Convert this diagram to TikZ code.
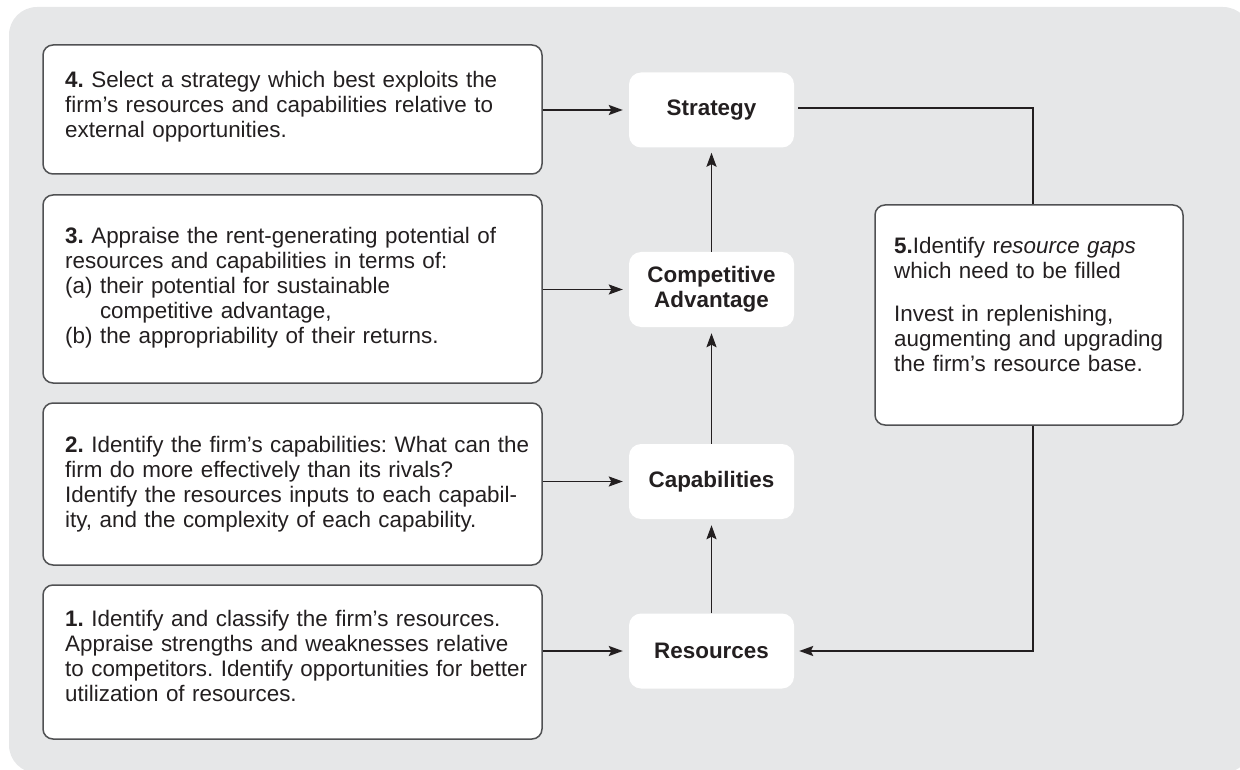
\documentclass[tikz,border=0pt]{standalone}
\usepackage{fontspec}
\setmainfont{Liberation Sans}
\usetikzlibrary{arrows.meta}
\definecolor{bgcol}{HTML}{E6E7E8}
\definecolor{ink}{HTML}{231F20}
\definecolor{framecol}{HTML}{505153}
\newcommand\firstln{\rule{0pt}{17pt}}
\frenchspacing
\begin{document}
\begin{tikzpicture}[x=1pt,y=-1pt,
  stepbox/.style={draw=framecol, line width=1.5pt, fill=white, rounded corners=10pt, inner sep=0pt},
  hub/.style={fill=white, rounded corners=12pt, minimum width=165pt, minimum height=75pt, align=center,
    font=\fontsize{22.4}{24.5}\selectfont\bfseries, text=ink, inner sep=0pt},
  body/.style={anchor=north west, inner sep=0pt, text width=480pt, align=left,
    font=\fontsize{22.4}{25}\selectfont, text=ink},
  plain/.style={draw=ink, line width=1.9pt},
  link/.style={plain, -{Stealth[length=14pt,width=10pt,inset=2.5pt]}}]
\useasboundingbox (0,0) rectangle (1240,770);
\begin{scope}
\clip (0,0) rectangle (1240,770);
\fill[bgcol, rounded corners=28pt] (9,7) rectangle (1251,773);
\end{scope}

% left step boxes
\node[stepbox, minimum width=499pt, minimum height=129pt] (b4) at (292.5,109.5) {};
\node[stepbox, minimum width=499pt, minimum height=188pt] (b3) at (292.5,289) {};
\node[stepbox, minimum width=499pt, minimum height=162pt] (b2) at (292.5,484) {};
\node[stepbox, minimum width=499pt, minimum height=154pt] (b1) at (292.5,662) {};
\node[stepbox, minimum width=308pt, minimum height=220pt] (b5) at (1029,315) {};

\node[body] (t4) at (65,70) {\firstln\textbf{4.} Select a strategy which best exploits the\\
firm’s resources and capabilities relative to\\
external opportunities.};
\node[body] (t3) at (65,226) {\firstln\textbf{3.} Appraise the rent-generating potential of\\
resources and capabilities in terms of:\\
(a) their potential for sustainable\\
\phantom{(a) }competitive advantage,\\
(b) the appropriability of their returns.};
\node[body] (t2) at (65,435) {\firstln\textbf{2.} Identify the firm’s capabilities: What can the\\
firm do more effectively than its rivals?\\
Identify the resources inputs to each capabil-\\
ity, and the complexity of each capability.};
\node[body] (t1) at (65,609) {\firstln\textbf{1.} Identify and classify the firm’s resources.\\
Appraise strengths and weaknesses relative\\
to competitors. Identify opportunities for better\\
utilization of resources.};
\node[body, text width=285pt] (t5) at (894,236) {\firstln\textbf{5.}Identify r\textit{esource gaps}\\
which need to be filled\\[18.4pt]
Invest in replenishing,\\
augmenting and upgrading\\
the firm’s resource base.};

% central hubs
\node[hub] (strat) at (711.5,110) {Strategy};
\node[hub] (ca) at (711.5,289.5) {Competitive\\Advantage};
\node[hub] (cap) at (711.5,481.5) {Capabilities};
\node[hub] (res) at (711.5,651) {Resources};

% connectors
\draw[link, shorten >=6pt] (b4.east |- strat.west) -- (strat.west);
\draw[link, shorten >=6pt] (b3.east |- ca.west) -- (ca.west);
\draw[link, shorten >=6pt] (b2.east |- cap.west) -- (cap.west);
\draw[link, shorten >=6pt] (b1.east |- res.west) -- (res.west);
\draw[link, shorten >=6pt] (res.north) -- (cap.south);
\draw[link, shorten >=6pt] (cap.north) -- (ca.south);
\draw[link, shorten >=5pt] (ca.north) -- (strat.south);

\coordinate (k1) at (1033,108);
\coordinate (k2) at (1033,651);
\draw[plain, shorten <=4pt] (strat.east |- k1) -- (k1) -- (b5.north -| k1);
\draw[link, shorten >=5pt] (b5.south -| k2) -- (k2) -- (res.east);
\end{tikzpicture}
\end{document}
